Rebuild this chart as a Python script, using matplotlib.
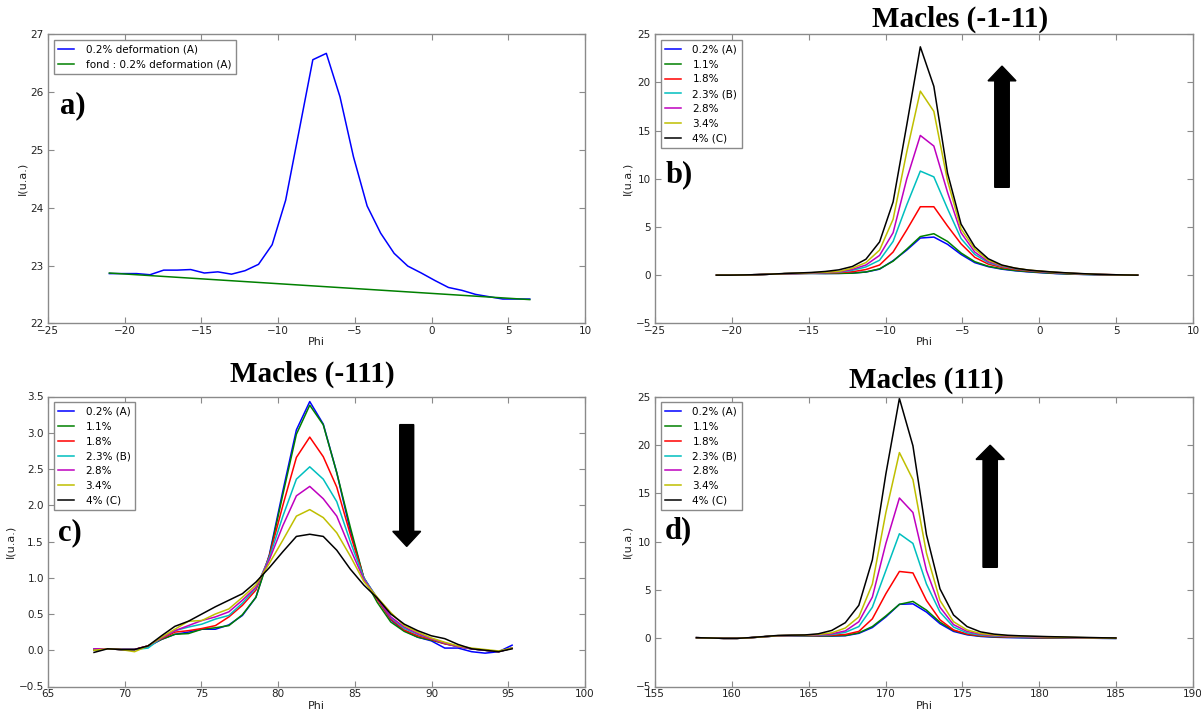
import matplotlib
matplotlib.use("Agg")
import matplotlib.pyplot as plt
from matplotlib.patches import FancyArrow
from matplotlib.ticker import MultipleLocator

# ---------------- data ----------------
phi_a = [-21.0, -20.12, -19.23, -18.35, -17.46, -16.58, -15.70, -14.81, -13.93, -13.04,
         -12.16, -11.28, -10.39, -9.51, -8.62, -7.74, -6.86, -5.97, -5.09, -4.20,
         -3.32, -2.44, -1.55, -0.67, 0.22, 1.10, 1.98, 2.87, 3.75, 4.64, 5.52, 6.40]
int_a = [22.86, 22.86, 22.86, 22.84, 22.92, 22.92, 22.93, 22.87, 22.89, 22.85,
         22.91, 23.02, 23.36, 24.13, 25.35, 26.56, 26.67, 25.92, 24.88, 24.03,
         23.56, 23.21, 22.99, 22.87, 22.74, 22.62, 22.57, 22.50, 22.46, 22.42, 22.42, 22.42]
fond_x = [-21.0, 6.40]
fond_y = [22.87, 22.41]

labels = ["0.2% (A)", "1.1%", "1.8%", "2.3% (B)", "2.8%", "3.4%", "4% (C)"]
colors = ["b", "g", "r", "c", "m", "y", "k"]

phi_b = phi_a
b_02 = [0.0, 0.0, 0.02, 0.05, 0.1, 0.15, 0.17, 0.18, 0.17, 0.18, 0.22, 0.32, 0.62, 1.5, 2.6, 3.85,
        3.95, 3.2, 2.15, 1.3, 0.88, 0.62, 0.45, 0.33, 0.24, 0.16, 0.11, 0.07, 0.04, 0.02, 0.0, 0.0]
b_11 = [0.0, 0.0, 0.02, 0.05, 0.1, 0.15, 0.17, 0.18, 0.17, 0.18, 0.2, 0.33, 0.65, 1.45, 2.7, 4.0,
        4.3, 3.5, 2.3, 1.4, 0.92, 0.66, 0.48, 0.36, 0.26, 0.18, 0.12, 0.08, 0.05, 0.02, 0.01, 0.0]
b_18 = [0.0, 0.0, 0.02, 0.05, 0.1, 0.15, 0.17, 0.2, 0.22, 0.26, 0.35, 0.58, 1.05, 2.4, 4.7, 7.1,
        7.1, 5.1, 3.25, 1.85, 1.15, 0.8, 0.58, 0.43, 0.32, 0.23, 0.16, 0.11, 0.07, 0.04, 0.02, 0.0]
b_23 = [0.0, 0.0, 0.02, 0.05, 0.1, 0.15, 0.18, 0.22, 0.25, 0.3, 0.5, 0.85, 1.55, 3.5, 7.3, 10.8,
        10.2, 6.9, 3.8, 2.15, 1.3, 0.9, 0.65, 0.48, 0.36, 0.26, 0.18, 0.12, 0.08, 0.04, 0.02, 0.0]
b_28 = [0.0, 0.0, 0.02, 0.05, 0.1, 0.15, 0.18, 0.23, 0.27, 0.33, 0.6, 1.05, 2.05, 4.4, 10.0, 14.5,
        13.4, 8.6, 4.4, 2.4, 1.4, 0.95, 0.7, 0.5, 0.38, 0.28, 0.2, 0.13, 0.08, 0.05, 0.02, 0.0]
b_34 = [0.0, 0.0, 0.02, 0.05, 0.1, 0.16, 0.2, 0.25, 0.3, 0.38, 0.72, 1.3, 2.6, 5.8, 12.8, 19.1,
        17.0, 9.8, 4.8, 2.7, 1.55, 1.0, 0.72, 0.52, 0.4, 0.3, 0.2, 0.14, 0.08, 0.05, 0.02, 0.0]
b_40 = [0.0, 0.0, 0.02, 0.05, 0.1, 0.17, 0.22, 0.28, 0.38, 0.55, 0.9, 1.65, 3.45, 7.6, 15.6, 23.7,
        19.6, 10.6, 5.3, 2.95, 1.7, 1.05, 0.72, 0.52, 0.4, 0.3, 0.22, 0.15, 0.09, 0.05, 0.02, 0.0]

phi_c = [68.00, 68.88, 69.76, 70.64, 71.52, 72.40, 73.27, 74.15, 75.03, 75.91, 76.79, 77.67,
         78.55, 79.43, 80.31, 81.19, 82.06, 82.94, 83.82, 84.70, 85.58, 86.46, 87.34, 88.22,
         89.10, 89.98, 90.86, 91.73, 92.61, 93.49, 94.37, 95.25]
c_02 = [0.01, 0.02, 0.01, 0.01, 0.05, 0.15, 0.22, 0.25, 0.29, 0.29, 0.35, 0.48, 0.73, 1.32, 2.2, 3.04,
        3.43, 3.12, 2.45, 1.65, 1.0, 0.71, 0.42, 0.27, 0.18, 0.13, 0.03, 0.03, -0.02, -0.04, -0.02, 0.07]
c_11 = [0.0, 0.02, 0.01, 0.01, 0.06, 0.15, 0.22, 0.23, 0.29, 0.31, 0.34, 0.49, 0.73, 1.3, 2.15, 2.98,
        3.38, 3.11, 2.45, 1.7, 1.0, 0.66, 0.39, 0.26, 0.18, 0.14, 0.09, 0.05, 0.02, 0.0, -0.02, 0.03]
c_18 = [0.01, 0.02, 0.01, 0.01, 0.06, 0.16, 0.25, 0.27, 0.3, 0.34, 0.46, 0.62, 0.83, 1.3, 2.0, 2.66,
        2.94, 2.67, 2.25, 1.6, 1.0, 0.7, 0.43, 0.28, 0.2, 0.15, 0.09, 0.05, 0.02, 0.0, -0.02, 0.03]
c_23 = [0.02, 0.02, 0.01, 0.01, 0.03, 0.17, 0.27, 0.32, 0.36, 0.43, 0.48, 0.65, 0.86, 1.28, 1.85, 2.36,
        2.53, 2.36, 2.05, 1.5, 1.0, 0.72, 0.45, 0.30, 0.22, 0.16, 0.1, 0.05, 0.02, 0.0, -0.02, 0.03]
c_28 = [0.02, 0.02, 0.01, 0.01, 0.06, 0.17, 0.27, 0.34, 0.41, 0.46, 0.53, 0.69, 0.87, 1.25, 1.72, 2.13,
        2.26, 2.09, 1.85, 1.4, 0.98, 0.72, 0.46, 0.32, 0.23, 0.16, 0.1, 0.05, 0.02, 0.0, -0.02, 0.03]
c_34 = [0.0, 0.02, 0.01, -0.02, 0.06, 0.18, 0.29, 0.40, 0.41, 0.50, 0.57, 0.73, 0.9, 1.2, 1.52, 1.85,
        1.94, 1.83, 1.62, 1.3, 0.95, 0.73, 0.52, 0.34, 0.25, 0.17, 0.11, 0.06, 0.03, 0.01, -0.01, 0.03]
c_40 = [-0.03, 0.02, 0.01, 0.01, 0.06, 0.2, 0.33, 0.40, 0.50, 0.60, 0.69, 0.78, 0.94, 1.14, 1.36, 1.57,
        1.60, 1.57, 1.38, 1.12, 0.9, 0.72, 0.5, 0.36, 0.27, 0.2, 0.16, 0.08, 0.02, 0.0, -0.02, 0.02]

phi_d = [157.70, 158.58, 159.46, 160.34, 161.22, 162.10, 162.98, 163.86, 164.74, 165.62, 166.50,
         167.38, 168.26, 169.14, 170.02, 170.90, 171.78, 172.66, 173.54, 174.42, 175.30, 176.18,
         177.06, 177.94, 178.82, 179.70, 180.58, 181.46, 182.34, 183.22, 184.10, 184.98]
d_02 = [0.05, 0.02, -0.02, -0.02, 0.05, 0.15, 0.24, 0.25, 0.24, 0.22, 0.22, 0.25, 0.5, 1.1, 2.2, 3.5,
        3.55, 2.7, 1.5, 0.7, 0.35, 0.18, 0.1, 0.06, 0.04, 0.02, 0.01, 0.0, 0.0, 0.0, -0.02, -0.03]
d_11 = [0.05, 0.02, -0.02, -0.02, 0.05, 0.15, 0.25, 0.26, 0.25, 0.24, 0.24, 0.28, 0.55, 1.2, 2.3, 3.5,
        3.8, 2.9, 1.65, 0.8, 0.4, 0.22, 0.14, 0.1, 0.07, 0.05, 0.03, 0.02, 0.01, 0.0, -0.01, -0.02]
d_18 = [0.05, 0.02, -0.02, -0.02, 0.05, 0.15, 0.25, 0.27, 0.27, 0.27, 0.3, 0.38, 0.7, 2.0, 4.6, 6.9,
        6.75, 3.9, 1.9, 0.85, 0.42, 0.25, 0.17, 0.13, 0.1, 0.07, 0.05, 0.04, 0.03, 0.02, 0.0, -0.01]
d_23 = [0.05, 0.02, -0.02, -0.02, 0.05, 0.15, 0.25, 0.27, 0.28, 0.3, 0.38, 0.6, 1.2, 3.2, 7.0, 10.8,
        9.8, 5.6, 2.7, 1.15, 0.55, 0.32, 0.22, 0.17, 0.13, 0.1, 0.08, 0.06, 0.04, 0.02, 0.01, 0.0]
d_28 = [0.05, 0.02, -0.02, -0.02, 0.05, 0.15, 0.25, 0.28, 0.3, 0.33, 0.45, 0.75, 1.7, 4.25, 9.8, 14.5,
        13.0, 7.0, 3.2, 1.4, 0.7, 0.4, 0.27, 0.2, 0.16, 0.12, 0.1, 0.08, 0.05, 0.03, 0.01, 0.0]
d_34 = [0.05, 0.02, -0.02, -0.02, 0.05, 0.15, 0.26, 0.29, 0.32, 0.38, 0.55, 1.05, 2.2, 5.6, 13.0, 19.2,
        16.4, 8.8, 3.9, 1.7, 0.85, 0.48, 0.33, 0.25, 0.2, 0.16, 0.13, 0.1, 0.07, 0.04, 0.02, 0.0]
d_40 = [0.05, 0.02, -0.02, -0.02, 0.06, 0.17, 0.28, 0.31, 0.33, 0.45, 0.8, 1.6, 3.4, 8.1, 17.0, 24.8,
        19.9, 10.7, 5.1, 2.4, 1.2, 0.65, 0.42, 0.3, 0.24, 0.2, 0.16, 0.13, 0.1, 0.07, 0.04, 0.02]

series_b = [b_02, b_11, b_18, b_23, b_28, b_34, b_40]
series_c = [c_02, c_11, c_18, c_23, c_28, c_34, c_40]
series_d = [d_02, d_11, d_18, d_23, d_28, d_34, d_40]

# ---------------- style ----------------
plt.rcParams.update({
    "font.family": ["DejaVu Sans"],
    "axes.unicode_minus": True,
    "xtick.direction": "in",
    "ytick.direction": "in",
    "xtick.top": True,
    "ytick.right": True,
    "xtick.major.size": 4,
    "ytick.major.size": 4,
    "xtick.labelsize": 7.5,
    "ytick.labelsize": 7.5,
    "xtick.major.pad": 2,
    "ytick.major.pad": 3,
    "axes.labelsize": 8,
    "legend.fontsize": 7.5,
})

W, H = 1201, 713
fig = plt.figure(figsize=(W / 100, H / 100), dpi=100)
fig.patch.set_facecolor("white")


def make_axes(left, top, right, bottom):
    return fig.add_axes([left / W, 1 - bottom / H, (right - left) / W, (bottom - top) / H])


ax_a = make_axes(48, 34.3, 585, 323.3)
ax_b = make_axes(655, 34.3, 1193, 323.3)
ax_c = make_axes(48, 396.5, 585, 686.5)
ax_d = make_axes(655, 396.5, 1193, 686.5)

FRAME = "#8a8a8a"


def style(ax, xlim, ylim, xstep, ystep):
    ax.set_xlim(*xlim)
    ax.set_ylim(*ylim)
    ax.xaxis.set_major_locator(MultipleLocator(xstep))
    ax.yaxis.set_major_locator(MultipleLocator(ystep))
    for s in ax.spines.values():
        s.set_color(FRAME)
        s.set_linewidth(1.0)
    ax.tick_params(colors=FRAME, labelcolor="#222222", width=0.8)
    ax.set_xlabel("Phi", labelpad=1, color="#222222")
    ax.set_ylabel("I(u.a.)", labelpad=2, color="#222222")


def legend(ax):
    leg = ax.legend(loc="upper left", frameon=True, fancybox=False, framealpha=1,
                    handlelength=1.5, handletextpad=1.1, labelspacing=0.46,
                    borderpad=0.45, borderaxespad=0.55)
    leg.get_frame().set_edgecolor(FRAME)
    leg.get_frame().set_linewidth(1.0)


# panel a
ax_a.plot(phi_a, int_a, color="b", lw=1.1, label="0.2% deformation (A)")
ax_a.plot(fond_x, fond_y, color="g", lw=1.1, label="fond : 0.2% deformation (A)")
style(ax_a, (-25, 10), (22, 27), 5, 1)
legend(ax_a)

# panels b, c, d
for ax, xs, series in [(ax_b, phi_b, series_b), (ax_c, phi_c, series_c), (ax_d, phi_d, series_d)]:
    for ys, col, lab in zip(series, colors, labels):
        ax.plot(xs, ys, color=col, lw=1.1, label=lab)
    legend(ax)

style(ax_b, (-25, 10), (-5, 25), 5, 5)
style(ax_c, (65, 100), (-0.5, 3.5), 5, 0.5)
style(ax_d, (155, 190), (-5, 25), 5, 5)

# panel letters
for ax, txt, fx, fy in [(ax_a, "a)", 0.022, 0.752), (ax_b, "b)", 0.020, 0.513),
                        (ax_c, "c)", 0.019, 0.531), (ax_d, "d)", 0.019, 0.538)]:
    ax.text(fx, fy, txt, transform=ax.transAxes, fontfamily="Liberation Serif",
            fontweight="bold", fontsize=22, va="center", ha="left")

# titles
title_kw = dict(fontfamily="Liberation Serif", fontweight="bold", fontsize=21,
                ha="center", va="center")
fig.text(960 / W, 1 - 19 / H, "Macles (-1-11)", **title_kw)
fig.text(312 / W, 1 - 374 / H, "Macles (-111)", **title_kw)
fig.text(926 / W, 1 - 380 / H, "Macles (111)", **title_kw)


# arrows (axes-fraction layout)
def arrow(ax, xc, y_tail, y_tip, shaft, head_w, head_l):
    ax.add_patch(FancyArrow(xc, y_tail, 0, y_tip - y_tail, width=shaft, head_width=head_w,
                            head_length=head_l, length_includes_head=True,
                            transform=ax.transAxes, color="k", clip_on=False))


arrow(ax_b, 0.645, 0.4706, 0.890, 0.027, 0.052, 0.051)
arrow(ax_c, 0.668, 0.903, 0.483, 0.026, 0.052, 0.052)
arrow(ax_d, 0.623, 0.411, 0.832, 0.0266, 0.0526, 0.049)

fig.savefig("out.png", dpi=100, facecolor="white")
